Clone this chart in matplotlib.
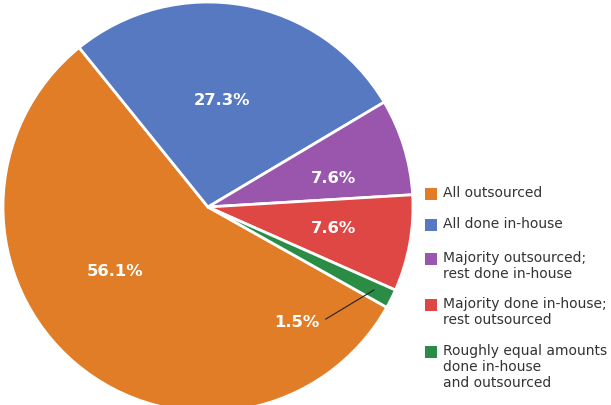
import numpy as np
import matplotlib
matplotlib.use("Agg")
import matplotlib.pyplot as plt
from matplotlib.patches import Rectangle

# survey shares, in legend order
categories = [
    "All outsourced",
    "All done in-house",
    "Majority outsourced;\nrest done in-house",
    "Majority done in-house;\nrest outsourced",
    "Roughly equal amounts\ndone in-house\nand outsourced",
]
shares = [56.1, 27.3, 7.6, 7.6, 1.5]
colors = ["#E07D26", "#5679C1", "#9A55AD", "#DE4744", "#2A8C45"]

# where each percentage sits: (angle offset from wedge middle, radius)
label_place = [(-15.0, 0.55), (2.7, 0.525), (-4.4, 0.63), (0.3, 0.62), (None, 0.71)]

fig = plt.figure(figsize=(6.11, 4.05), dpi=100)
fig.patch.set_facecolor("white")

W, H = 611, 405
cx, cy, r = 208, 207, 205
ax = fig.add_axes([(cx - r) / W, (H - cy - r) / H, 2 * r / W, 2 * r / H])

wedges, _ = ax.pie(shares, colors=colors, startangle=-29.3, counterclock=False,
                   radius=1.0, wedgeprops=dict(edgecolor="white", linewidth=2.0))
ax.set_xlim(-1, 1)
ax.set_ylim(-1, 1)
ax.axis("off")

for w, val, (off, rad) in zip(wedges, shares, label_place):
    mid = (w.theta1 + w.theta2) / 2
    txt = f"{val}%"
    if off is None:
        # small slice: label sits inside the orange one with a leader line
        lx, ly = rad * np.cos(np.radians(-52.3)), rad * np.sin(np.radians(-52.3))
        px, py = 0.905 * np.cos(np.radians(mid)), 0.905 * np.sin(np.radians(mid))
        ax.plot([lx + 0.14, px], [ly + 0.015, py], color="#222222", lw=0.8)
    else:
        a = np.radians(mid + off)
        lx, ly = rad * np.cos(a), rad * np.sin(a)
    ax.text(lx, ly, txt, ha="center", va="center", color="white",
            fontsize=11.8, fontweight="bold", family="DejaVu Sans")

# legend drawn by hand so the swatch lines up with the first text line
rows_y = [194, 225, 259, 305, 352]
for cat, col, y in zip(categories, colors, rows_y):
    fig.patches.append(Rectangle((425 / W, (H - y - 6) / H), 12 / W, 12 / H,
                                 transform=fig.transFigure, facecolor=col,
                                 edgecolor="none"))
    fig.text(443 / W, (H - y + 8) / H, cat, ha="left", va="top",
             fontsize=10, color="#333333", linespacing=1.2,
             family="DejaVu Sans", transform=fig.transFigure)

fig.savefig("out.png", dpi=100, facecolor="white")
